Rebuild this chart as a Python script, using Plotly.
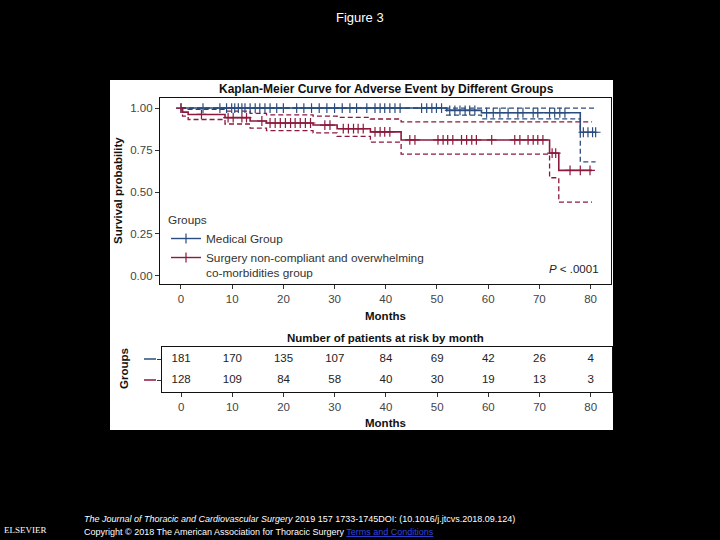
import numpy as np
import plotly.graph_objects as go

# ---------------- data ----------------
months_ticks = [0, 10, 20, 30, 40, 50, 60, 70, 80]
surv_ticks = [0.0, 0.25, 0.5, 0.75, 1.0]
surv_ticktext = ["0.00", "0.25", "0.50", "0.75", "1.00"]

group_names = ["Medical Group", "Surgery non-compliant and overwhelming<br>co-morbidities group"]

# Medical group (Kaplan-Meier step points)
med_time = [0, 51.9, 58.7, 78.0, 81.0]
med_surv = [1.0, 0.986, 0.972, 0.856, 0.856]
med_lower = [1.0, 0.958, 0.936, 0.68, 0.68]
med_upper = [1.0, 1.0, 1.0, 1.0, 1.0]
med_censor = [0, 4.3, 7.6, 8.9, 9.9, 10.5, 11.2, 11.9, 12.5, 13.5, 14.5, 15.4, 16.4, 17.4,
              18.7, 20.0, 22.6, 24, 25.5, 27, 28.5, 30, 31.5, 33, 34.3, 36.3, 37.9, 38.9,
              39.8, 40.8, 41.8, 42.8, 47, 48, 49, 49.9, 50.9, 52.5, 53.5, 54.5, 55.5, 56.4,
              57.4, 59.7, 61, 62.3, 63.9, 65.8, 66.8, 68.8, 69.7, 72, 73, 74, 75, 78.6,
              79.5, 80.4, 81]

# Surgery non-compliant group
sur_time = [0, 0.3, 1.4, 8.6, 13.5, 16.7, 25.8, 30.5, 37.0, 43.0, 72.0, 73.8, 80.3]
sur_surv = [1.0, 0.976, 0.962, 0.943, 0.923, 0.911, 0.899, 0.877, 0.858, 0.810, 0.732, 0.629, 0.629]
sur_lower = [1.0, 0.952, 0.932, 0.905, 0.880, 0.866, 0.852, 0.831, 0.797, 0.726, 0.585, 0.44, 0.44]
sur_upper = [1.0, 1.0, 0.992, 0.982, 0.968, 0.960, 0.952, 0.945, 0.935, 0.918, 0.918, 0.918, 0.918]
sur_censor = [0, 4, 9.2, 10.2, 11.9, 12.8, 15.8, 17.4, 18.4, 19.4, 20.4, 21.4, 22.3, 23.3,
              24.3, 25.3, 28.1, 29.1, 31.7, 32.7, 33.7, 34.6, 35.6, 37.9, 38.9, 39.8, 40.8,
              44.7, 45.7, 50.2, 51.2, 52.1, 53.1, 54.8, 55.8, 56.8, 57.7, 60.7, 65.2, 66.2,
              67.8, 68.8, 69.7, 70.7, 72.5, 73.2, 76, 78, 79.9]

# Number at risk
med_risk = [181, 170, 135, 107, 84, 69, 42, 26, 4]
sur_risk = [128, 109, 84, 58, 40, 30, 19, 13, 3]

# ---------------- style ----------------
BLUE = "#2b4c7e"
RED = "#8b1a3c"
FONT = "Liberation Sans, Arial, sans-serif"
W, H = 720, 540


def px(xp):
    return xp / W


def py(yp):
    return 1 - yp / H


def step_lookup(times, surv, t):
    idx = np.searchsorted(np.asarray(times), np.asarray(t), side="right") - 1
    return np.asarray(surv)[idx]


fig = go.Figure()

series = [
    (med_time, med_surv, med_lower, med_upper, med_censor, BLUE, group_names[0]),
    (sur_time, sur_surv, sur_lower, sur_upper, sur_censor, RED, group_names[1]),
]

for t, s, lo, up, cen, col, name in series:
    for ci in (lo, up):
        fig.add_trace(go.Scatter(x=t, y=ci, mode="lines", line_shape="hv",
                                 line=dict(color=col, width=1.3, dash="5px,3px"),
                                 showlegend=False, hoverinfo="skip", xaxis="x", yaxis="y"))
for t, s, lo, up, cen, col, name in series:
    fig.add_trace(go.Scatter(x=t, y=s, mode="lines", line_shape="hv",
                             line=dict(color=col, width=1.6), showlegend=False,
                             xaxis="x", yaxis="y"))
    fig.add_trace(go.Scatter(x=cen, y=step_lookup(t, s, cen), mode="markers",
                             marker=dict(symbol="cross-thin", size=7,
                                         line=dict(color=col, width=1.2)),
                             showlegend=False, xaxis="x", yaxis="y"))
    # legend entry
    fig.add_trace(go.Scatter(x=[None], y=[None], mode="lines+markers", name=name,
                             line=dict(color=col, width=1.4),
                             marker=dict(symbol="cross-thin", size=7,
                                         line=dict(color=col, width=1.2)),
                             xaxis="x", yaxis="y"))

# risk table
fig.add_trace(go.Scatter(x=months_ticks, y=[2] * len(months_ticks), mode="text",
                         text=[str(v) for v in med_risk],
                         textfont=dict(family=FONT, size=11.5, color="#222"),
                         showlegend=False, xaxis="x2", yaxis="y2"))
fig.add_trace(go.Scatter(x=months_ticks, y=[1] * len(months_ticks), mode="text",
                         text=[str(v) for v in sur_risk],
                         textfont=dict(family=FONT, size=11.5, color="#222"),
                         showlegend=False, xaxis="x2", yaxis="y2"))

axis_common = dict(showline=True, linecolor="#111", linewidth=1.3, mirror=True,
                   showgrid=False, zeroline=False, ticks="outside", ticklen=4,
                   tickcolor="#333", tickwidth=1,
                   tickfont=dict(family=FONT, size=11.5, color="#444"))

fig.update_layout(
    width=W, height=H,
    margin=dict(l=0, r=0, t=0, b=0),
    paper_bgcolor="black", plot_bgcolor="white",
    font=dict(family=FONT),
    xaxis=dict(domain=[px(160), px(611)], range=[-4.1, 84.0], tickvals=months_ticks,
               anchor="y", **axis_common),
    yaxis=dict(domain=[py(284), py(98)], range=[-0.048, 1.06], tickvals=surv_ticks,
               ticktext=surv_ticktext, anchor="x", **axis_common),
    xaxis2=dict(domain=[px(161.7), px(611.7)], range=[-3.8, 84.1], tickvals=months_ticks,
                anchor="y2", **axis_common),
    yaxis2=dict(domain=[py(391.7), py(347.3)], range=[0.443, 2.557], tickvals=[1, 2],
                ticktext=["", ""], anchor="x2", **axis_common),
    legend=dict(x=px(166), y=py(209), xanchor="left", yanchor="top",
                bgcolor="rgba(0,0,0,0)", valign="top",
                font=dict(family=FONT, size=11.8, color="#333"),
                title=dict(text="Groups", font=dict(family=FONT, size=11.8, color="#333")),
                tracegroupgap=0, itemwidth=30),
)

# white figure background
fig.add_shape(type="rect", xref="paper", yref="paper", x0=px(110), x1=px(613),
              y0=py(430), y1=py(80), fillcolor="white", line=dict(width=0), layer="below")

# colored group keys in the risk table
for row, col in ((2, BLUE), (1, RED)):
    fig.add_shape(type="line", xref="paper", yref="y2", x0=px(144), x1=px(156),
                  y0=row, y1=row, line=dict(color=col, width=1.6))

ann = []


def add_text(text, x, y, size=11.5, color="#111", bold=False, xanchor="center",
             textangle=0, italic=False, family=FONT):
    if bold:
        text = "<b>" + text + "</b>"
    if italic:
        text = "<i>" + text + "</i>"
    ann.append(dict(text=text, x=x, y=y, xref="paper", yref="paper", showarrow=False,
                    xanchor=xanchor, yanchor="middle", textangle=textangle,
                    font=dict(family=family, size=size, color=color)))


add_text("Figure 3", 0.5, py(18), size=13, color="white")
add_text("Kaplan-Meier Curve for Adverse Event by Different Groups", px(386), py(89),
         size=12, bold=True)
add_text("Survival probability", px(118), py(191), size=11.5, bold=True, textangle=-90)
add_text("Months", px(385.5), py(316), size=11.5, bold=True)
add_text("<i>P</i> < .0001", px(601), py(269), size=11.5, color="#222", xanchor="right")
add_text("Number of patients at risk by month", px(385.5), py(338), size=11.5, bold=True)
add_text("Groups", px(124), py(369), size=11.5, bold=True, textangle=-90)
add_text("Months", px(385.5), py(423), size=11.5, bold=True)

add_text("<i>The Journal of Thoracic and Cardiovascular Surgery</i> 2019 157 1733-1745DOI: (10.1016/j.jtcvs.2018.09.124)",
         px(82), py(519), size=9, color="white", xanchor="left")
add_text("Copyright © 2018 The American Association for Thoracic Surgery "
         "<span style='color:#3344dd'><u>Terms and Conditions</u></span>",
         px(82), py(532), size=9, color="white", xanchor="left")
add_text("ELSEVIER", px(25), py(530), size=9, color="white",
         family="Liberation Serif, Times New Roman, serif")

fig.update_layout(annotations=ann)

fig.write_html("out.html",
               config={"displayModeBar": False},
               post_script="document.body.style.margin='0';document.body.style.overflow='hidden';")
